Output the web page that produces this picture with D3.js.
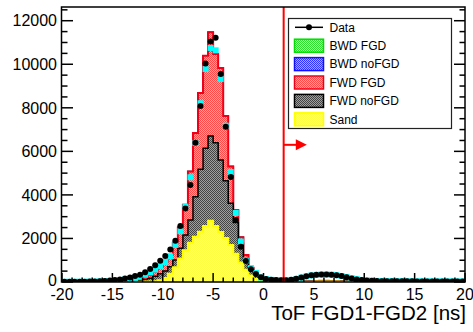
<!DOCTYPE html>
<html>
<head>
<meta charset="utf-8">
<script src="https://cdn.jsdelivr.net/npm/d3@7"></script>
<style>
  body { margin: 0; background: #fff; }
  svg { display: block; }
  text { font-family: "Liberation Sans", Arial, Helvetica, sans-serif; fill: #000; }
</style>
</head>
<body>
<svg id="chart" width="473" height="332"></svg>
<script>
// binning: 80 bins of 0.5 ns from -20 to 20
const binLow = -20;
const binWidth = 0.5;

// data points (black dots)
const dataCounts = [
  10, 10, 12, 14, 16, 20, 26, 35, 48, 65,
  90, 120, 160, 205, 270, 335, 450, 600, 770, 980,
  1190, 1490, 1900, 2570, 3380, 4450, 6400, 8080, 10040, 11040,
  11220, 9550, 7130, 4820, 2850, 1620, 965, 585, 370, 215,
  140, 105, 90, 85, 82, 100, 150, 210, 265, 305,
  330, 345, 345, 335, 310, 270, 215, 165, 120, 88,
  65, 52, 45, 40, 37, 35, 33, 31, 30, 29,
  28, 27, 26, 25, 24, 23, 22, 22, 21, 20
];

// cyan square markers
const cyanCounts = [
  10, 10, 11, 12, 14, 16, 20, 27, 36, 48,
  65, 85, 115, 145, 190, 240, 330, 440, 570, 740,
  920, 1180, 1700, 2330, 3460, 4810, 6385, 8210, 9780, 10750,
  10640, 9320, 7180, 5050, 3170, 1860, 990, 640, 410, 205,
  130, 100, 90, 85, 80, 95, 140, 200, 255, 300,
  325, 340, 345, 335, 310, 275, 225, 175, 130, 95,
  72, 58, 50, 45, 42, 40, 38, 36, 35, 34,
  33, 32, 31, 30, 30, 29, 28, 28, 27, 27
];

// MC components (stacked)
const sand = [
  0, 0, 0, 0, 0, 0, 0, 0, 0, 0,
  2, 3, 4, 6, 8, 12, 18, 25, 40, 80,
  180, 380, 680, 1080, 1460, 1800, 2080, 2310, 2570, 2810,
  2570, 2300, 2020, 1700, 1300, 900, 560, 300, 140, 60,
  25, 12, 6, 4, 3, 3, 5, 8, 12, 15,
  18, 20, 20, 20, 18, 15, 12, 9, 6, 4,
  3, 2, 1, 1, 1, 1, 1, 1, 1, 1,
  1, 1, 1, 1, 1, 1, 1, 1, 1, 1
];
const fwdNoFgd = [
  1, 1, 1, 2, 2, 3, 3, 4, 5, 6,
  6, 9, 16, 24, 34, 48, 82, 145, 220, 300,
  320, 320, 330, 470, 700, 1050, 1840, 2870, 3570, 3890,
  3830, 3300, 2630, 1920, 1430, 880, 520, 300, 160, 80,
  45, 28, 19, 14, 6, 5, 5, 6, 7, 8,
  9, 10, 10, 10, 9, 8, 7, 6, 5, 4,
  2, 2, 2, 2, 2, 2, 2, 2, 2, 2,
  2, 2, 2, 2, 2, 2, 2, 2, 2, 2
];
const fwdFgd = [
  2, 2, 3, 3, 4, 5, 7, 10, 13, 19,
  25, 33, 40, 50, 58, 70, 100, 140, 210, 320,
  430, 540, 790, 950, 1390, 2220, 2920, 3500, 4250, 4770,
  4070, 4230, 2970, 1680, 570, 270, 160, 50, 30, 30,
  20, 15, 10, 7, 3, 3, 3, 3, 3, 3,
  3, 3, 3, 3, 3, 3, 3, 3, 3, 3,
  3, 3, 3, 3, 3, 3, 3, 3, 3, 3,
  3, 3, 3, 3, 3, 3, 3, 3, 3, 3
];
const bwdNoFgd = [
  0, 0, 0, 0, 0, 0, 0, 0, 0, 0,
  0, 0, 0, 0, 0, 0, 0, 0, 0, 0,
  0, 0, 0, 0, 0, 0, 0, 0, 0, 0,
  0, 0, 0, 0, 0, 0, 0, 0, 0, 0,
  1, 1, 1, 1, 1, 1, 4, 8, 12, 16,
  20, 24, 24, 22, 18, 12, 8, 4, 2, 1,
  1, 1, 1, 1, 1, 1, 1, 1, 1, 1,
  1, 1, 1, 1, 1, 1, 1, 1, 1, 1
];
const bwdFgd = [
  0, 0, 0, 0, 0, 0, 0, 0, 0, 0,
  0, 0, 0, 0, 0, 0, 0, 0, 0, 0,
  0, 0, 0, 0, 0, 0, 0, 0, 0, 0,
  0, 0, 0, 0, 0, 0, 0, 0, 0, 0,
  0, 0, 0, 0, 0, 0, 2, 3, 5, 6,
  8, 8, 8, 7, 5, 4, 3, 1, 0, 0,
  0, 0, 0, 0, 0, 0, 0, 0, 0, 0,
  0, 0, 0, 0, 0, 0, 0, 0, 0, 0
];

const xTicks = [-20, -15, -10, -5, 0, 5, 10, 15, 20];
const yTicks = [0, 2000, 4000, 6000, 8000, 10000, 12000];
const legendLabels = ["Data", "BWD FGD", "BWD noFGD", "FWD FGD", "FWD noFGD", "Sand"];
const cutValue = 2;      // ns
const arrowLevel = 6300; // counts
const arrowLength = 2.3; // ns

const svg = d3.select("#chart");
const fL = 62, fR = 465, fT = 7, fB = 282;

const x = d3.scaleLinear().domain([-20, 20]).range([fL, fR]);
const y = d3.scaleLinear().domain([0, 12630]).range([fB, fT]);

const keys = ["sand", "fwdNoFgd", "fwdFgd", "bwdNoFgd", "bwdFgd"];
const comp = { sand, fwdNoFgd, fwdFgd, bwdNoFgd, bwdFgd };
const style = {
  bwdFgd:   { base: "#a8ffa8", dot: "#30e030", line: "#00dd00", w: 1.5 },
  bwdNoFgd: { base: "#a8a8ff", dot: "#3030ff", line: "#1010ff", w: 1.5 },
  fwdFgd:   { base: "#ffa0a0", dot: "#ff4848", line: "#f00018", w: 2 },
  fwdNoFgd: { base: "#a0a0a0", dot: "#444444", line: "#000000", w: 1.5 },
  sand:     { base: "#ffffb0", dot: "#ffff40", line: "#ffff00", w: 2 }
};

const rows = dataCounts.map((_, i) => {
  const r = { lo: binLow + i * binWidth };
  keys.forEach(k => r[k] = comp[k][i]);
  return r;
});
const series = d3.stack().keys(keys)(rows);

const defs = svg.append("defs");
keys.forEach(k => {
  const p = defs.append("pattern")
    .attr("id", "pat-" + k)
    .attr("patternUnits", "userSpaceOnUse")
    .attr("width", 2).attr("height", 2);
  p.append("rect").attr("width", 2).attr("height", 2).attr("fill", style[k].base);
  p.append("rect").attr("x", 0).attr("y", 0).attr("width", 1).attr("height", 1).attr("fill", style[k].dot);
  p.append("rect").attr("x", 1).attr("y", 1).attr("width", 1).attr("height", 1).attr("fill", style[k].dot);
});
defs.append("clipPath").attr("id", "frame")
  .append("rect").attr("x", fL).attr("y", fT)
  .attr("width", fR - fL).attr("height", fB - fT);

const plot = svg.append("g").attr("clip-path", "url(#frame)");

const area = d3.area()
  .curve(d3.curveStepAfter)
  .x(p => x(p.x))
  .y0(y(0))
  .y1(p => y(p.top));

// draw cumulative outlines, tallest first
series.slice().reverse().forEach(layer => {
  const k = layer.key;
  const pts = layer.map(d => ({ x: d.data.lo, top: d[1] }));
  const lastBin = layer[layer.length - 1];
  pts.push({ x: lastBin.data.lo + binWidth, top: lastBin[1] });
  plot.append("path")
    .attr("d", area(pts))
    .attr("fill", "url(#pat-" + k + ")")
    .attr("stroke", style[k].line)
    .attr("stroke-width", style[k].w)
    .attr("stroke-linejoin", "miter");
});

// cyan markers
plot.append("g").selectAll("rect")
  .data(cyanCounts)
  .join("rect")
  .attr("x", (d, i) => x(binLow + (i + 0.5) * binWidth) - 3)
  .attr("y", d => y(d) - 3)
  .attr("width", 6).attr("height", 6)
  .attr("fill", "#00ffff");

// cut line and arrow
svg.append("line")
  .attr("x1", x(cutValue)).attr("x2", x(cutValue))
  .attr("y1", fT).attr("y2", fB)
  .attr("stroke", "#ff0000").attr("stroke-width", 2);
svg.append("line")
  .attr("x1", x(cutValue)).attr("x2", x(cutValue + arrowLength) - 9)
  .attr("y1", y(arrowLevel)).attr("y2", y(arrowLevel))
  .attr("stroke", "#ff0000").attr("stroke-width", 2);
const tipX = x(cutValue + arrowLength), tipY = y(arrowLevel);
svg.append("path")
  .attr("d", `M${tipX},${tipY}L${tipX - 11},${tipY - 5.5}L${tipX - 11},${tipY + 5.5}Z`)
  .attr("fill", "#ff0000");

// data points
plot.append("g").selectAll("circle")
  .data(dataCounts)
  .join("circle")
  .attr("cx", (d, i) => x(binLow + (i + 0.5) * binWidth))
  .attr("cy", d => y(d))
  .attr("r", 3)
  .attr("fill", "#000");

// frame
svg.append("rect")
  .attr("x", fL - 0.5).attr("y", fT)
  .attr("width", fR - fL + 0.5).attr("height", fB - fT)
  .attr("fill", "none").attr("stroke", "#000").attr("stroke-width", 1.5);

// y axis (ticks inside, both sides)
const yMinor = d3.range(0, 12630, 500);
const yAx = svg.append("g").attr("stroke", "#000").attr("stroke-width", 1.5);
yMinor.forEach(v => {
  const major = v % 2000 === 0;
  const len = major ? 11 : 5.5;
  yAx.append("line").attr("x1", fL).attr("x2", fL + len).attr("y1", y(v)).attr("y2", y(v));
  yAx.append("line").attr("x1", fR).attr("x2", fR - len).attr("y1", y(v)).attr("y2", y(v));
});
svg.append("g").selectAll("text")
  .data(yTicks)
  .join("text")
  .attr("x", 57).attr("y", d => y(d) - (d === 0 ? 1.5 : 0)).attr("dy", "0.36em")
  .attr("text-anchor", "end")
  .attr("font-size", 16)
  .text(d => d);

// x axis (ticks inside)
const xAx = svg.append("g").attr("stroke", "#000").attr("stroke-width", 1.5);
d3.range(-20, 21, 1).forEach(v => {
  const len = v % 5 === 0 ? 9 : 4.5;
  xAx.append("line").attr("x1", x(v)).attr("x2", x(v)).attr("y1", fB).attr("y2", fB - len);
});
svg.append("g").selectAll("text")
  .data(xTicks)
  .join("text")
  .attr("x", d => x(d)).attr("y", 299.5)
  .attr("text-anchor", "middle")
  .attr("font-size", 16)
  .text(d => d);

svg.append("text")
  .attr("x", 466).attr("y", 320)
  .attr("text-anchor", "end")
  .attr("font-size", 20.5)
  .text("ToF FGD1-FGD2 [ns]");

// legend
const lg = svg.append("g");
lg.append("rect")
  .attr("x", 288.5).attr("y", 18.5).attr("width", 163).attr("height", 110)
  .attr("fill", "#fff").attr("stroke", "#222").attr("stroke-width", 1.2);
const legendKeys = [null, "bwdFgd", "bwdNoFgd", "fwdFgd", "fwdNoFgd", "sand"];
const rowY = d3.scaleLinear().domain([0, 5]).range([27.3, 119.3]);
legendLabels.forEach((label, i) => {
  const cy = rowY(i);
  const k = legendKeys[i];
  if (k === null) {
    lg.append("line").attr("x1", 295).attr("x2", 323).attr("y1", cy).attr("y2", cy)
      .attr("stroke", "#000").attr("stroke-width", 1.5);
    lg.append("circle").attr("cx", 309).attr("cy", cy).attr("r", 3).attr("fill", "#000");
  } else {
    lg.append("rect")
      .attr("x", 294.5).attr("y", cy - 6.5).attr("width", 29).attr("height", 13)
      .attr("fill", "url(#pat-" + k + ")")
      .attr("stroke", style[k].line).attr("stroke-width", 1.5);
  }
  lg.append("text")
    .attr("x", 329.5).attr("y", cy).attr("dy", "0.36em")
    .attr("font-size", 12)
    .text(label);
});
</script>
</body>
</html>
